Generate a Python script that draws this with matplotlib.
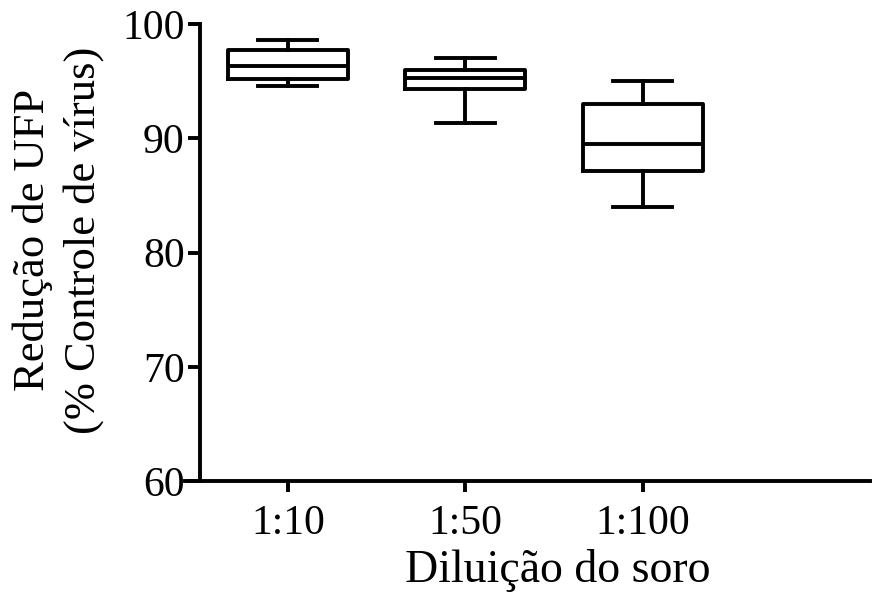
import numpy as np
import matplotlib.pyplot as plt

plt.rcParams['font.family'] = ['Liberation Serif', 'DejaVu Serif']

groups = ['1:10', '1:50', '1:100']
whis_lo = [94.6, 91.3, 84.0]
q1 = [95.2, 94.3, 87.1]
medians = [96.3, 95.3, 89.5]
q3 = [97.7, 96.0, 93.0]
whis_hi = [98.6, 97.0, 95.0]

stats = []
for i in range(len(groups)):
    stats.append({'label': groups[i], 'whislo': whis_lo[i], 'q1': q1[i],
                  'med': medians[i], 'q3': q3[i], 'whishi': whis_hi[i]})

fig = plt.figure(figsize=(8.77, 5.93), dpi=100)
ax = fig.add_axes([185 / 877, 1 - 481 / 593, (870 - 185) / 877, (481 - 24) / 593])

lw = 2.8
ax.bxp(stats, positions=[1, 2, 3], widths=0.676, capwidths=0.333, showfliers=False,
       boxprops=dict(color='black', linewidth=lw),
       medianprops=dict(color='black', linewidth=lw),
       whiskerprops=dict(color='black', linewidth=lw),
       capprops=dict(color='black', linewidth=lw))

ax.set_xlim(0.42, 4.28)
ax.set_ylim(60, 100)
ax.set_yticks([60, 70, 80, 90, 100])
ax.spines['top'].set_visible(False)
ax.spines['right'].set_visible(False)
ax.spines['left'].set_position(('data', 0.504))
ax.spines['left'].set_linewidth(lw)
ax.spines['bottom'].set_linewidth(lw)
ax.tick_params(axis='y', direction='out', length=9, width=lw, labelsize=30, pad=2)
ax.tick_params(axis='x', direction='out', length=8, width=lw, labelsize=30, pad=9)

fig.text(33 / 877, 1 - 240 / 593, 'Redução de UFP', rotation=90, fontsize=32,
         ha='center', va='center')
fig.text(84 / 877, 1 - 240 / 593, '(% Controle de vírus)', rotation=90, fontsize=32,
         ha='center', va='center')
fig.text(558 / 877, 1 - 571 / 593, 'Diluição do soro', fontsize=33,
         ha='center', va='center')

fig.savefig('out.png', dpi=100)
